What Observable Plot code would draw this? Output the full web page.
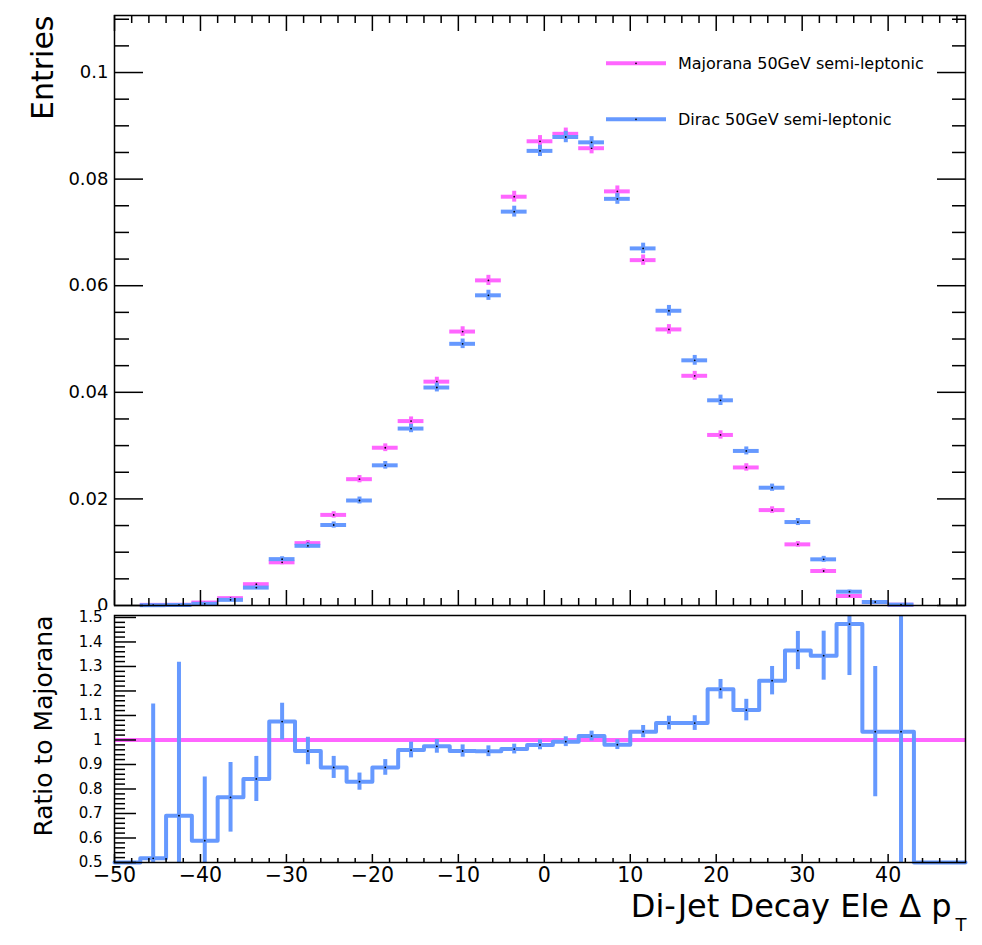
<!DOCTYPE html>
<html><head><meta charset="utf-8">
<script src="https://cdn.jsdelivr.net/npm/d3@7"></script>
<script src="https://cdn.jsdelivr.net/npm/@observablehq/plot@0.6"></script>
<style>
body{margin:0;background:#fff;}
#wrap{position:relative;width:982px;height:945px;font-family:"DejaVu Sans",sans-serif;background:#fff;}
#top,#bottom,#legend{position:absolute;left:0;}
#top{top:0}#bottom{top:610px}#legend{top:0}
</style></head><body>
<div id="wrap"><div id="top"></div><div id="bottom"></div><div id="legend"></div></div>
<script>
// ---- data ----
const binCenters = [-48.5,-45.5,-42.5,-39.5,-36.5,-33.5,-30.5,-27.5,-24.5,-21.5,-18.5,-15.5,-12.5,-9.5,-6.5,-3.5,-0.5,2.5,5.5,8.5,11.5,14.5,17.5,20.5,23.5,26.5,29.5,32.5,35.5,38.5,41.5,44.5,47.5];
const binWidth = 3;
const majorana    = [0,0.00012,0.00014,0.00055,0.00138,0.0040,0.0081,0.0117,0.0170,0.0237,0.0296,0.0346,0.0420,0.0514,0.0610,0.0767,0.0871,0.0885,0.0858,0.0777,0.0648,0.0518,0.0431,0.0320,0.0259,0.0179,0.01147,0.00647,0.00178,0.00064,0.00015,0,0];
const majoranaErr = [0,0.0001,0.0001,0.00015,0.0002,0.0003,0.00045,0.0005,0.0006,0.00068,0.00073,0.00078,0.00083,0.0009,0.00095,0.00102,0.00107,0.00108,0.00106,0.00102,0.00097,0.0009,0.00083,0.00078,0.0007,0.00062,0.00052,0.0004,0.00022,0.00015,0.0001,0,0];
const dirac       = [0,0.00006,0.0001,0.00032,0.00106,0.00336,0.0087,0.0112,0.0151,0.0197,0.0263,0.0332,0.0409,0.0491,0.0582,0.0739,0.0853,0.0879,0.0869,0.0763,0.0670,0.0553,0.0460,0.0385,0.0290,0.0221,0.01566,0.00866,0.00259,0.00066,0.000155,0,0];
const diracErr    = [0,0.0001,0.0001,0.00014,0.00018,0.00028,0.00045,0.0005,0.00058,0.00065,0.00072,0.00078,0.00083,0.0009,0.00095,0.00102,0.00106,0.00107,0.00107,0.00102,0.00098,0.001,0.00092,0.00097,0.00075,0.00068,0.00066,0.00056,0.0003,0.00015,0.0001,0,0];
const ratio       = [0,0.517,0.691,0.589,0.766,0.841,1.075,0.955,0.888,0.830,0.888,0.959,0.974,0.955,0.954,0.963,0.980,0.993,1.016,0.981,1.034,1.069,1.069,1.207,1.122,1.242,1.365,1.344,1.473,1.034,1.034,0,0];
const ratioErr    = [0,0.63,0.626,0.26,0.142,0.092,0.075,0.056,0.045,0.035,0.032,0.032,0.028,0.025,0.022,0.02,0.02,0.02,0.02,0.02,0.025,0.028,0.03,0.04,0.044,0.058,0.078,0.10,0.21,0.266,0.75,0,0];

const xTickLabels = [-50,-40,-30,-20,-10,0,10,20,30,40];
const yTickLabelsTop = [0,0.02,0.04,0.06,0.08,0.1];
const yTickLabelsRatio = [0.5,0.6,0.7,0.8,0.9,1,1.1,1.2,1.3,1.4,1.5];
const seriesNames = ["Majorana 50GeV semi-leptonic","Dirac 50GeV semi-leptonic"];
const xTitle = "Di-Jet Decay Ele \u0394 p";
const xTitleSub = "T";
const yTitleTop = "Entries";
const yTitleRatio = "Ratio to Majorana";

// ---- styling ----
const PINK = "#ff66ff", BLUE = "#6699ff";
const FONT = "DejaVu Sans";
const W = 982, ML = 114, MR = 17;
const frameW = W - ML - MR;

const xMinor = d3.range(-48, 49, 2).filter(v => v % 10 !== 0);
const yMinorTop = d3.range(1, 23).map(i => +(i * 0.005).toFixed(3)).filter(v => Math.abs(v / 0.02 - Math.round(v / 0.02)) > 1e-6);
const yMinorRatio = d3.range(26, 76).map(i => +(i * 0.02).toFixed(2)).filter(v => Math.abs(v * 10 - Math.round(v * 10)) > 1e-6);

const rows = binCenters.map((c, i) => ({c, m: majorana[i], me: majoranaErr[i], d: dirac[i], de: diracErr[i], r: ratio[i], re: ratioErr[i]}));
const fmtX = d => String(d).replace("-", "\u2212");

function series(key, errKey, color) {
  const data = rows.filter(r => r[key] > 0);
  return [
    Plot.ruleY(data, {y: key, x1: r => r.c - binWidth / 2, x2: r => r.c + binWidth / 2, stroke: color, strokeWidth: 4}),
    Plot.ruleX(data, {x: "c", y1: r => r[key] - r[errKey], y2: r => r[key] + r[errKey], stroke: color, strokeWidth: 4}),
    Plot.dot(data, {x: "c", y: key, r: 0.9, fill: "black", stroke: null})
  ];
}

const topH = 610, topMT = 15, topMB = 5, topFH = topH - topMT - topMB;
const topPlot = Plot.plot({
  width: W, height: topH, marginLeft: ML, marginRight: MR, marginTop: topMT, marginBottom: topMB,
  style: {fontFamily: FONT, background: "white", color: "black", overflow: "visible"},
  x: {domain: [-50, 49], axis: null},
  y: {domain: [0, 0.1107], axis: null},
  marks: [
    ...series("m", "me", PINK),
    ...series("d", "de", BLUE),
    Plot.tickY(yTickLabelsTop, {y: d => d, insetRight: frameW - 29, strokeWidth: 1.5}),
    Plot.tickY(yMinorTop, {y: d => d, insetRight: frameW - 15, strokeWidth: 1.5}),
    Plot.tickY(yTickLabelsTop, {y: d => d, insetLeft: frameW - 28, strokeWidth: 1.5}),
    Plot.tickY(yMinorTop, {y: d => d, insetLeft: frameW - 13, strokeWidth: 1.5}),
    Plot.tickX(xTickLabels, {x: d => d, insetTop: topFH - 15, strokeWidth: 1.5}),
    Plot.tickX(xMinor, {x: d => d, insetTop: topFH - 7, strokeWidth: 1.5}),
    Plot.tickX(xTickLabels, {x: d => d, insetBottom: topFH - 16, strokeWidth: 1.5}),
    Plot.tickX(xMinor, {x: d => d, insetBottom: topFH - 8, strokeWidth: 1.5}),
    Plot.frame({stroke: "black", strokeWidth: 1.5}),
    Plot.text(yTickLabelsTop, {y: d => d, text: d => String(d), frameAnchor: "left", textAnchor: "end", dx: -6, fontSize: 18, fill: "black"}),
    Plot.text([yTitleTop], {text: d => d, frameAnchor: "top-left", rotate: -90, textAnchor: "end", lineAnchor: "bottom", dx: -62, fontSize: 30, fill: "black"})
  ]
});
document.getElementById("top").appendChild(topPlot);

const botH = 335, botMT = 5, botMB = 83, botFH = botH - botMT - botMB;
const stepPts = rows.map(r => ({x: r.c - binWidth / 2, y: r.r}));
stepPts.push({x: rows[rows.length - 1].c + binWidth / 2, y: rows[rows.length - 1].r});
const ratioPts = rows.filter(r => r.r > 0);

const botPlot = Plot.plot({
  width: W, height: botH, marginLeft: ML, marginRight: MR, marginTop: botMT, marginBottom: botMB,
  style: {fontFamily: FONT, background: "white", color: "black", overflow: "visible"},
  x: {domain: [-50, 49], axis: null},
  y: {domain: [0.5, 1.508], axis: null},
  marks: [
    Plot.ruleY([1], {y: d => d, stroke: PINK, strokeWidth: 4}),
    Plot.line(stepPts, {x: "x", y: d => Math.max(d.y, 0.5), curve: "step-after", stroke: BLUE, strokeWidth: 4}),
    Plot.ruleX(ratioPts, {x: "c", y1: r => r.r - r.re, y2: r => r.r + r.re, stroke: BLUE, strokeWidth: 4, clip: true}),
    Plot.dot(ratioPts, {x: "c", y: "r", r: 0.9, fill: "black", stroke: null}),
    Plot.tickY(yTickLabelsRatio, {y: d => d, insetRight: frameW - 22, strokeWidth: 1.5}),
    Plot.tickY(yMinorRatio, {y: d => d, insetRight: frameW - 11, strokeWidth: 1.5}),
    Plot.tickX(xTickLabels, {x: d => d, insetTop: botFH - 8, strokeWidth: 1.5}),
    Plot.tickX(xMinor, {x: d => d, insetTop: botFH - 4, strokeWidth: 1.5}),
    Plot.frame({stroke: "black", strokeWidth: 1.5}),
    Plot.text(yTickLabelsRatio, {y: d => d, text: d => String(d), frameAnchor: "left", textAnchor: "end", dx: -12, fontSize: 15, fill: "black"}),
    Plot.text(xTickLabels, {x: d => d, text: fmtX, frameAnchor: "bottom", lineAnchor: "top", dy: 5, fontSize: 20.5, fill: "black"}),
    Plot.text([yTitleRatio], {text: d => d, frameAnchor: "top-left", rotate: -90, textAnchor: "end", lineAnchor: "bottom", dx: -63, fontSize: 25, fill: "black"}),
    Plot.text([xTitle], {text: d => d, frameAnchor: "bottom-right", textAnchor: "end", lineAnchor: "bottom", dx: -14, dy: 54, fontSize: 32, fill: "black"}),
    Plot.text([xTitleSub], {text: d => d, frameAnchor: "bottom-right", textAnchor: "start", lineAnchor: "bottom", dx: -10, dy: 68, fontSize: 18, fill: "black"})
  ]
});
document.getElementById("bottom").appendChild(botPlot);

// ---- legend (overlay) ----
const leg = d3.select("#legend").append("svg").attr("width", 982).attr("height", 150)
  .style("font-family", FONT);
const legItems = [{name: seriesNames[0], color: PINK, y: 63.3}, {name: seriesNames[1], color: BLUE, y: 119.3}];
legItems.forEach(it => {
  leg.append("line").attr("x1", 606).attr("x2", 666).attr("y1", it.y).attr("y2", it.y)
    .attr("stroke", it.color).attr("stroke-width", 4);
  leg.append("circle").attr("cx", 636).attr("cy", it.y).attr("r", 0.9).attr("fill", "black");
  leg.append("text").attr("x", 678).attr("y", it.y + 6).attr("font-size", 16).attr("fill", "black").text(it.name);
});
</script></body></html>
